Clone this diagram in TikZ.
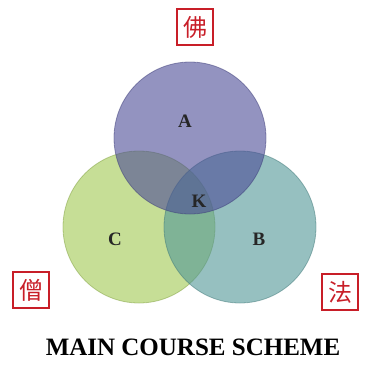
\documentclass[tikz,border=0pt]{standalone}
\usepackage{fontspec}
\setmainfont{Liberation Serif}
\newfontfamily\cjk{Noto Sans CJK TC}
\usepackage{tikz}

\definecolor{ringA}{RGB}{75,75,150}
\definecolor{ringB}{RGB}{80,150,150}
\definecolor{ringC}{RGB}{160,200,80}
\definecolor{seal}{RGB}{200,30,40}

\begin{document}
\begin{tikzpicture}[
      x=1pt, y=-1pt,
      ring/.style={circle,minimum size=152pt,inner sep=0pt,line width=0.8pt},
      letter/.style={font=\fontsize{19}{19}\selectfont\bfseries,text=black!85},
      sealbox/.style={draw=seal,line width=1.6pt,minimum size=36pt,inner sep=0pt,
        text=seal,font=\cjk\fontsize{24}{24}\selectfont}
    ]
    \useasboundingbox (0,0) rectangle (369,365);
    % Draw the three circles.
    \node[ring,fill=ringC,fill opacity=0.6,draw=ringC!80!black,draw opacity=0.5] (circC) at (139,227) {};
    \node[ring,fill=ringB,fill opacity=0.6,draw=ringB!80!black,draw opacity=0.5] (circB) at (240,227) {};
    \node[ring,fill=ringA,fill opacity=0.6,draw=ringA!80!black,draw opacity=0.5] (circA) at (190,138) {};
    % Draw the labels.
    \node[letter] (labA) at (185,121) {A};
    \node[letter] (labB) at (259,239) {B};
    \node[letter] (labC) at (115,239) {C};
    \node[letter] (labK) at (199,201) {K};
    % Draw the seals.
    \node[sealbox] (fo)   at (195,27)  {佛};
    \node[sealbox] (seng) at (31,290)  {僧};
    \node[sealbox] (fa)   at (340,292) {法};
    % Draw the title.
    \node[font=\fontsize{25}{25}\selectfont\bfseries] (title) at (193,347) {MAIN COURSE SCHEME};
\end{tikzpicture}
\end{document}
